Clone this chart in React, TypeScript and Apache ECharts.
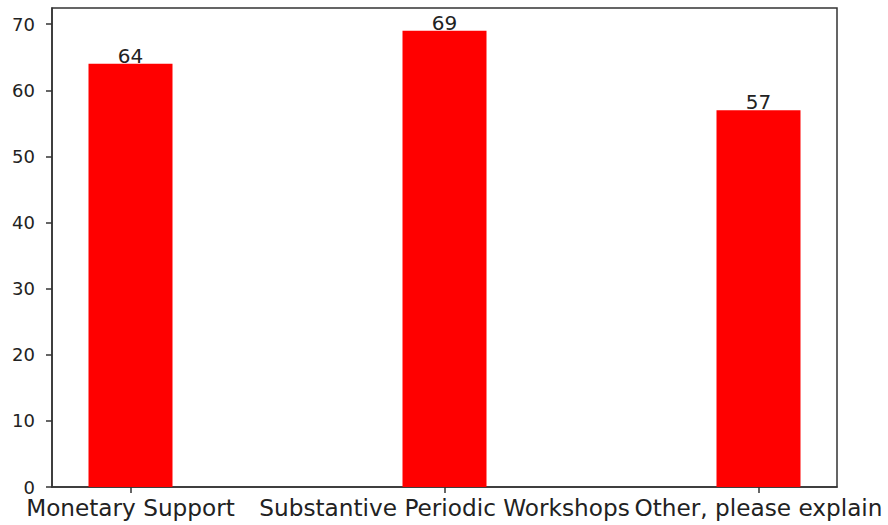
import React, { useEffect, useRef } from "react";
import * as echarts from "echarts";

const categories = ["Monetary Support", "Substantive Periodic Workshops", "Other, please explain"];
const counts = [64, 69, 57];
const yTicks = [0, 10, 20, 30, 40, 50, 60, 70];

export default function App() {
  const ref = useRef<HTMLDivElement>(null);
  useEffect(() => {
    if (!ref.current) return;
    const chart = echarts.init(ref.current, undefined, { renderer: "svg" });
    const positions = categories.map((_, i) => i);
    chart.setOption({
      animation: false,
      backgroundColor: "#ffffff",
      textStyle: { fontFamily: "DejaVu Sans" },
      grid: {
        left: 52,
        right: 51,
        top: 8,
        bottom: 38,
        show: true,
        borderColor: "#333",
        borderWidth: 1.5,
        backgroundColor: "transparent",
      },
      xAxis: {
        type: "value",
        min: -0.25,
        max: 2.25,
        splitLine: { show: false },
        axisLine: { show: true, onZero: false, lineStyle: { color: "#333", width: 1.5 } },
        axisTick: { show: true, length: 6, customValues: positions, lineStyle: { color: "#333", width: 1.5 } },
        axisLabel: {
          customValues: positions,
          formatter: (v: number) => categories[Math.round(v)] ?? "",
          fontFamily: "DejaVu Sans",
          fontSize: 23.2,
          color: "#222",
          margin: 9,
          hideOverlap: false,
        },
      },
      yAxis: {
        type: "value",
        min: 0,
        max: 72.45,
        interval: 10,
        splitLine: { show: false },
        axisLine: { show: true, onZero: false, lineStyle: { color: "#333", width: 1.5 } },
        axisTick: { show: true, length: 6, lineStyle: { color: "#333", width: 1.5 } },
        axisLabel: {
          fontFamily: "DejaVu Sans",
          fontSize: 18,
          color: "#222",
          margin: 17,
          showMaxLabel: false,
          formatter: (v: number) => (yTicks.includes(v) ? String(v) : ""),
        },
      },
      series: [
        {
          type: "bar",
          data: counts.map((c, i) => [positions[i], c]),
          barWidth: 84,
          itemStyle: { color: "#ff0000" },
          label: {
            show: true,
            position: "top",
            distance: -2,
            fontFamily: "DejaVu Sans",
            fontSize: 20,
            color: "#222",
            formatter: (p: any) => String(p.value[1]),
          },
        },
      ],
    });
    return () => chart.dispose();
  }, []);
  return (
    <div
      ref={ref}
      style={{ position: "fixed", left: 0, top: 0, width: 888, height: 525 }}
    />
  );
}
